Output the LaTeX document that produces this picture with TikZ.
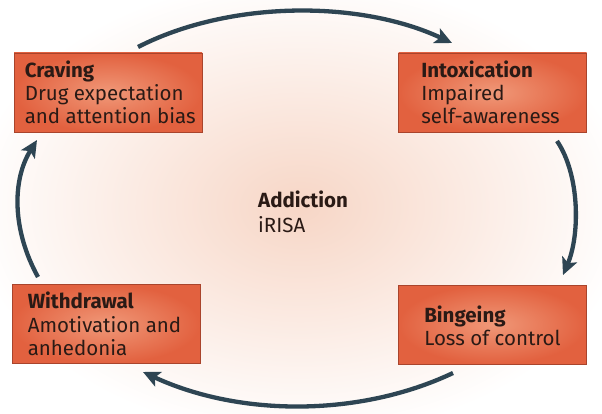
\documentclass[tikz,border=0pt]{standalone}
\usepackage{fontspec}
\setmainfont{Fira Sans}
\usetikzlibrary{arrows.meta,calc}
\definecolor{arrowc}{HTML}{2E4553}
\definecolor{boxin}{HTML}{F09878}
\definecolor{boxout}{HTML}{E2613F}
\definecolor{boxline}{HTML}{A9442C}
\definecolor{bgpink}{HTML}{F7D6C6}
\definecolor{txt}{HTML}{2A1A15}
\tikzset{
  stagebox/.style={draw=boxline, line width=0.8pt, inner color=boxin, outer color=boxout,
    minimum width=188, minimum height=79, inner sep=0pt},
  stagetext/.style={align=left, inner sep=0pt, anchor=west, text=txt,
    font=\fontsize{20.5}{23.3}\selectfont},
  cyclearrow/.style={draw=arrowc, line width=4.3pt, -{Stealth[length=17pt,width=16pt,inset=4pt]}},
  centertext/.style={text=txt, align=left, inner sep=0pt, font=\fontsize{20.5}{24.5}\selectfont}
}
\begin{document}
\begin{tikzpicture}[x=1pt,y=-1pt]
\useasboundingbox (0,0) rectangle (602,414);
\fill[white] (0,0) rectangle (602,414);
\shade[inner color=bgpink, outer color=white] (300,207) ellipse [x radius=330, y radius=230];
\node[stagebox] (crav) at (108,92.5) {};
\node[stagebox] (intox) at (492.5,92.5) {};
\node[stagebox] (withd) at (106,324) {};
\node[stagebox] (binge) at (492.5,324.5) {};
\node[stagetext] (cravt) at ($(crav.west)+(11,0)$) {\textbf{Craving}\\Drug expectation\\and attention bias};
\node[stagetext] (intoxt) at ($(intox.west)+(23,0)$) {\textbf{Intoxication}\\Impaired\\self-awareness};
\node[stagetext] (withdt) at ($(withd.west)+(16,0)$) {\textbf{Withdrawal}\\Amotivation and\\anhedonia};
\node[stagetext] (binget) at ($(binge.west)+(26,1)$) {\textbf{Bingeing}\\Loss of control};
\node[centertext, anchor=west] (addict) at (258,212) {\textbf{Addiction}\\iRISA};
\coordinate (a1s) at (138,47);
\coordinate (a1e) at (452,43);
\coordinate (a2s) at (557,141);
\coordinate (a2e) at (563,275);
\coordinate (a3s) at (453,373);
\coordinate (a3e) at (143,372);
\coordinate (a4s) at (38,277);
\coordinate (a4e) at (37,140);
\draw[cyclearrow] (a1s) .. controls (230,0) and (360,0) .. (a1e);
\draw[cyclearrow] (a2s) .. controls (580,175) and (580,235) .. (a2e);
\draw[cyclearrow] (a3s) .. controls (360,417) and (240,417) .. (a3e);
\draw[cyclearrow] (a4s) .. controls (12,230) and (12,180) .. (a4e);
\end{tikzpicture}
\end{document}
